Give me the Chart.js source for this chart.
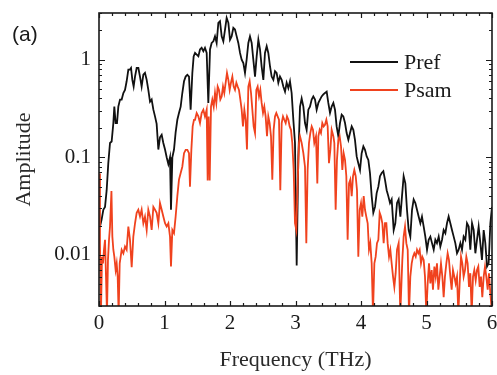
<!DOCTYPE html>
<html>
<head>
<meta charset="utf-8">
<script src="https://cdn.jsdelivr.net/npm/chart.js@4/dist/chart.umd.min.js"></script>
<style>
  html, body { margin: 0; padding: 0; background: #fff; }
  #wrap { position: relative; width: 497px; height: 375px; }
  #tag { position: absolute; left: 12px; top: 22px; font: 21px "Liberation Sans", Arial, sans-serif; color: #1a1a1a; }
</style>
</head>
<body>
<div id="wrap">
  <canvas id="chart" width="497" height="375"></canvas>
  <div id="tag">(a)</div>
</div>
<script>
// series names
var seriesNames = ['Pref', 'Psam'];

// Pref : frequency (THz) / amplitude
var prefFreq = [
  0.015, 0.04, 0.066, 0.092, 0.117, 0.142, 0.168, 0.193, 0.219, 0.234, 0.254, 0.275, 0.295, 0.321, 0.346, 0.372, 0.397, 0.422, 0.448, 0.473,
  0.489, 0.509, 0.529, 0.55, 0.575, 0.601, 0.626, 0.651, 0.677, 0.702, 0.728, 0.753, 0.779, 0.804, 0.83, 0.855, 0.88, 0.906, 0.931, 0.957,
  0.982, 1.008, 1.033, 1.059, 1.084, 1.099, 1.12, 1.145, 1.17, 1.196, 1.221, 1.247, 1.272, 1.298, 1.323, 1.349, 1.374, 1.399, 1.425, 1.445,
  1.466, 1.517, 1.542, 1.567, 1.593, 1.618, 1.644, 1.669, 1.695, 1.72, 1.746, 1.771, 1.796, 1.822, 1.847, 1.873, 1.898, 1.924, 1.949, 1.975,
  2.0, 2.025, 2.051, 2.076, 2.102, 2.127, 2.153, 2.178, 2.204, 2.229, 2.254, 2.28, 2.305, 2.331, 2.356, 2.382, 2.407, 2.433, 2.458, 2.483,
  2.509, 2.534, 2.56, 2.585, 2.611, 2.636, 2.662, 2.687, 2.712, 2.738, 2.763, 2.789, 2.814, 2.84, 2.865, 2.891, 2.916, 2.941, 2.967, 2.992,
  3.018, 3.043, 3.069, 3.094, 3.12, 3.145, 3.17, 3.196, 3.221, 3.247, 3.272, 3.298, 3.323, 3.349, 3.374, 3.399, 3.425, 3.45, 3.476, 3.501,
  3.527, 3.552, 3.578, 3.603, 3.628, 3.654, 3.679, 3.705, 3.73, 3.756, 3.781, 3.807, 3.832, 3.858, 3.883, 3.908, 3.934, 3.959, 3.985, 4.01,
  4.036, 4.061, 4.087, 4.112, 4.137, 4.163, 4.188, 4.214, 4.239, 4.265, 4.29, 4.316, 4.341, 4.366, 4.392, 4.417, 4.443, 4.468, 4.499, 4.524,
  4.55, 4.575, 4.601, 4.626, 4.651, 4.677, 4.702, 4.728, 4.753, 4.779, 4.804, 4.83, 4.855, 4.88, 4.906, 4.931, 4.957, 4.982, 5.008, 5.033,
  5.059, 5.084, 5.11, 5.135, 5.16, 5.186, 5.211, 5.237, 5.262, 5.288, 5.313, 5.338, 5.364, 5.389, 5.415, 5.44, 5.466, 5.491, 5.517, 5.542,
  5.567, 5.593, 5.618, 5.644, 5.669, 5.695, 5.72, 5.746, 5.771, 5.796, 5.822, 5.847, 5.873, 5.898, 5.924, 5.949, 5.975, 6.0
];
var prefAmp = [
  0.0195, 0.023, 0.029, 0.031, 0.046, 0.087, 0.14, 0.145, 0.224, 0.33, 0.224, 0.224, 0.33, 0.39, 0.39, 0.455, 0.49, 0.60, 0.79, 0.79,
  0.82, 0.62, 0.53, 0.67, 0.82, 0.82, 0.67, 0.53, 0.70, 0.73, 0.62, 0.49, 0.37, 0.39, 0.307, 0.262, 0.22, 0.12, 0.16, 0.17,
  0.14, 0.12, 0.1, 0.085, 0.1, 0.029, 0.1, 0.12, 0.18, 0.242, 0.284, 0.33, 0.455, 0.60, 0.67, 0.70, 0.67, 0.307, 0.73, 1.08,
  1.17, 1.08, 1.27, 1.32, 1.22, 1.32, 1.17, 0.36, 1.27, 1.48, 1.54, 1.73, 1.48, 2.38, 2.47, 1.73, 1.54, 2.03, 2.68, 2.38,
  1.60, 1.73, 2.11, 2.03, 1.73, 1.48, 1.17, 1.0, 0.92, 0.73, 1.0, 1.48, 1.73, 1.48, 1.0, 0.67, 1.08, 1.60, 1.27, 0.85,
  0.62, 1.17, 1.37, 1.17, 0.85, 0.67, 0.62, 0.76, 0.73, 0.58, 0.67, 0.62, 0.53, 0.47, 0.58, 0.51, 0.60, 0.455, 0.242, 0.14,
  0.0078, 0.1, 0.33, 0.40, 0.33, 0.224, 0.191, 0.307, 0.33, 0.39, 0.42, 0.39, 0.307, 0.36, 0.39, 0.42, 0.44, 0.455, 0.47, 0.36,
  0.284, 0.33, 0.36, 0.307, 0.207, 0.164, 0.224, 0.273, 0.262, 0.224, 0.177, 0.151, 0.177, 0.207, 0.191, 0.151, 0.102, 0.087, 0.074, 0.11,
  0.129, 0.119, 0.102, 0.094, 0.069, 0.04, 0.027, 0.031, 0.043, 0.05, 0.064, 0.069, 0.072, 0.059, 0.046, 0.04, 0.034, 0.037, 0.018, 0.0211,
  0.034, 0.037, 0.0247, 0.04, 0.064, 0.054, 0.029, 0.018, 0.0154, 0.029, 0.037, 0.034, 0.029, 0.0247, 0.0211, 0.0247, 0.0195, 0.0154, 0.0113, 0.0143,
  0.0154, 0.0132, 0.0113, 0.0143, 0.0132, 0.0154, 0.0122, 0.0143, 0.018, 0.0167, 0.0211, 0.0247, 0.0211, 0.018, 0.0154, 0.0132, 0.0104, 0.0113, 0.0132, 0.0113,
  0.0154, 0.0143, 0.0211, 0.0195, 0.0113, 0.0211, 0.018, 0.0104, 0.0143, 0.0195, 0.0132, 0.0089, 0.018, 0.0132, 0.0076, 0.0082, 0.0211, 0.031
];

// Psam : frequency (THz) / amplitude
var psamFreq = [
  0.0, 0.015, 0.03, 0.046, 0.061, 0.076, 0.092, 0.107, 0.122, 0.137, 0.153, 0.168, 0.19, 0.204, 0.219, 0.234, 0.254, 0.27, 0.285, 0.30,
  0.316, 0.331, 0.346, 0.372, 0.397, 0.422, 0.448, 0.473, 0.499, 0.524, 0.55, 0.575, 0.60, 0.626, 0.651, 0.677, 0.702, 0.728, 0.753, 0.779,
  0.804, 0.83, 0.855, 0.88, 0.906, 0.931, 0.957, 0.982, 1.008, 1.033, 1.059, 1.084, 1.099, 1.12, 1.145, 1.17, 1.196, 1.221, 1.247, 1.272,
  1.298, 1.323, 1.349, 1.374, 1.389, 1.41, 1.43, 1.45, 1.466, 1.491, 1.517, 1.542, 1.567, 1.593, 1.618, 1.644, 1.659, 1.674, 1.69, 1.71,
  1.73, 1.751, 1.771, 1.791, 1.812, 1.832, 1.852, 1.873, 1.893, 1.913, 1.934, 1.954, 1.975, 1.995, 2.015, 2.036, 2.056, 2.076, 2.097, 2.117,
  2.137, 2.158, 2.178, 2.198, 2.219, 2.239, 2.259, 2.28, 2.30, 2.321, 2.341, 2.361, 2.382, 2.402, 2.422, 2.443, 2.463, 2.483, 2.504, 2.524,
  2.544, 2.565, 2.585, 2.605, 2.626, 2.646, 2.666, 2.687, 2.707, 2.727, 2.748, 2.768, 2.789, 2.809, 2.829, 2.85, 2.87, 2.891, 2.911, 2.931,
  2.951, 2.972, 2.992, 3.012, 3.033, 3.053, 3.069, 3.094, 3.12, 3.145, 3.165, 3.185, 3.206, 3.226, 3.247, 3.267, 3.287, 3.313, 3.333, 3.349,
  3.369, 3.389, 3.409, 3.43, 3.45, 3.471, 3.491, 3.511, 3.532, 3.552, 3.578, 3.593, 3.613, 3.633, 3.654, 3.674, 3.695, 3.715, 3.735, 3.756,
  3.776, 3.796, 3.817, 3.837, 3.858, 3.878, 3.898, 3.919, 3.939, 3.959, 3.98, 4.0, 4.02, 4.041, 4.061, 4.081, 4.102, 4.122, 4.142, 4.163,
  4.183, 4.204, 4.224, 4.244, 4.265, 4.285, 4.305, 4.326, 4.346, 4.366, 4.387, 4.407, 4.428, 4.448, 4.468, 4.489, 4.509, 4.529, 4.55, 4.575,
  4.60, 4.631, 4.651, 4.672, 4.692, 4.713, 4.733, 4.753, 4.774, 4.794, 4.814, 4.835, 4.855, 4.875, 4.896, 4.916, 4.936, 4.957, 4.977, 4.997,
  5.018, 5.038, 5.059, 5.079, 5.099, 5.12, 5.14, 5.16, 5.181, 5.201, 5.221, 5.242, 5.262, 5.282, 5.303, 5.323, 5.343, 5.364, 5.384, 5.404,
  5.425, 5.445, 5.466, 5.486, 5.506, 5.527, 5.547, 5.567, 5.588, 5.608, 5.628, 5.649, 5.669, 5.69, 5.71, 5.73, 5.751, 5.771, 5.791, 5.812,
  5.832, 5.852, 5.873, 5.893, 5.913, 5.934, 5.954, 5.975, 5.995
];
var psamAmp = [
  0.068, 0.0132, 0.0025, 0.0096, 0.0082, 0.0113, 0.0143, 0.006, 0.0025, 0.0089, 0.0143, 0.0195, 0.045, 0.0154, 0.0113, 0.0096, 0.007, 0.0082, 0.006, 0.0025,
  0.0082, 0.0096, 0.0113, 0.0104, 0.0122, 0.0113, 0.0195, 0.0143, 0.0075, 0.0154, 0.0211, 0.027, 0.029, 0.0247, 0.029, 0.0211, 0.0247, 0.018, 0.029, 0.0247,
  0.018, 0.031, 0.029, 0.027, 0.0211, 0.034, 0.029, 0.0247, 0.0211, 0.0195, 0.0211, 0.0154, 0.0076, 0.018, 0.0167, 0.0247, 0.04, 0.059, 0.069, 0.08,
  0.11, 0.119, 0.119, 0.11, 0.05, 0.119, 0.207, 0.242, 0.242, 0.284, 0.262, 0.224, 0.284, 0.307, 0.262, 0.307, 0.058, 0.262, 0.058, 0.33,
  0.39, 0.33, 0.455, 0.36, 0.53, 0.49, 0.39, 0.42, 0.53, 0.455, 0.58, 0.73, 0.62, 0.49, 0.58, 0.67, 0.53, 0.49, 0.58, 0.53,
  0.49, 0.39, 0.307, 0.207, 0.307, 0.242, 0.12, 0.53, 0.60, 0.455, 0.307, 0.207, 0.177, 0.49, 0.53, 0.42, 0.49, 0.36, 0.284, 0.33,
  0.262, 0.164, 0.262, 0.224, 0.164, 0.059, 0.191, 0.262, 0.284, 0.262, 0.242, 0.046, 0.224, 0.262, 0.242, 0.224, 0.262, 0.242, 0.207, 0.191,
  0.14, 0.074, 0.0211, 0.018, 0.054, 0.14, 0.164, 0.14, 0.11, 0.08, 0.0132, 0.074, 0.14, 0.177, 0.207, 0.191, 0.14, 0.164, 0.054, 0.164,
  0.191, 0.177, 0.224, 0.207, 0.215, 0.242, 0.207, 0.087, 0.119, 0.191, 0.164, 0.14, 0.029, 0.094, 0.151, 0.164, 0.129, 0.074, 0.11, 0.094,
  0.064, 0.0143, 0.054, 0.059, 0.04, 0.064, 0.074, 0.064, 0.046, 0.0096, 0.029, 0.034, 0.0247, 0.04, 0.029, 0.0247, 0.0211, 0.0113, 0.0132, 0.0082,
  0.0025, 0.0082, 0.0096, 0.0132, 0.0143, 0.027, 0.0247, 0.0211, 0.0132, 0.0211, 0.0211, 0.0132, 0.0096, 0.0113, 0.0082, 0.006, 0.0047, 0.0065, 0.0113, 0.0132,
  0.0025, 0.0089, 0.0154, 0.0195, 0.0132, 0.0113, 0.0025, 0.006, 0.0082, 0.0096, 0.0104, 0.0096, 0.0113, 0.0104, 0.0113, 0.0082, 0.0096, 0.0089, 0.006, 0.0025,
  0.0051, 0.0082, 0.0051, 0.007, 0.0044, 0.0076, 0.006, 0.0082, 0.0044, 0.006, 0.0082, 0.006, 0.0037, 0.006, 0.0082, 0.0104, 0.0089, 0.006, 0.0044, 0.007,
  0.006, 0.0051, 0.006, 0.0025, 0.0051, 0.0096, 0.0082, 0.006, 0.007, 0.0096, 0.0082, 0.0047, 0.0065, 0.0025, 0.006, 0.007, 0.0055, 0.007, 0.0076, 0.0047,
  0.006, 0.0037, 0.006, 0.0076, 0.006, 0.0044, 0.0065, 0.004, 0.0028
];

// axis ticks
var xTickValues = [0, 1, 2, 3, 4, 5, 6];
var xTickLabels = ['0', '1', '2', '3', '4', '5', '6'];
var yTickValues = [0.01, 0.1, 1];
var yTickLabels = ['0.01', '0.1', '1'];

var seriesColors = ['#111111', 'rgb(240,66,30)'];

function toPoints(freq, amp) {
    var pts = [];
    for (var i = 0; i < freq.length; i++) {
        pts.push({x: freq[i], y: amp[i]});
    }
    return pts;
}

var serif = '"Liberation Serif", "Times New Roman", serif';

/* 테두리 + 안쪽 눈금 + 범례 */
var framePlugin = {
    id: 'frame',
    afterDatasetsDraw: function (chart) {
        var ctx = chart.ctx;
        var a = chart.chartArea;
        var xs = chart.scales.x;
        var ys = chart.scales.y;
        ctx.save();
        ctx.strokeStyle = '#1a1a1a';
        ctx.lineWidth = 1.6;
        ctx.strokeRect(a.left, a.top, a.right - a.left, a.bottom - a.top);

        ctx.lineWidth = 1.2;
        ctx.beginPath();
        // x ticks (major every 1, minor every 0.2)
        for (var i = 0; i <= 30; i++) {
            var v = i * 0.2;
            var px = Math.round(xs.getPixelForValue(v)) + 0.5;
            var len = (i % 5 === 0) ? 5 : 3;
            ctx.moveTo(px, a.bottom); ctx.lineTo(px, a.bottom - len);
            ctx.moveTo(px, a.top); ctx.lineTo(px, a.top + len);
        }
        // y ticks (log decades)
        var decades = [0.001, 0.01, 0.1, 1];
        for (var d = 0; d < decades.length; d++) {
            for (var k = 1; k <= 9; k++) {
                var yv = decades[d] * k;
                if (yv < ys.min || yv > ys.max) continue;
                var py = Math.round(ys.getPixelForValue(yv)) + 0.5;
                var l = (k === 1) ? 6 : 3;
                ctx.moveTo(a.left, py); ctx.lineTo(a.left + l, py);
                ctx.moveTo(a.right, py); ctx.lineTo(a.right - l, py);
            }
        }
        ctx.stroke();

        // legend
        ctx.font = '22px ' + serif;
        ctx.textBaseline = 'middle';
        ctx.textAlign = 'left';
        chart.data.datasets.forEach(function (ds, idx) {
            var ly = a.top + 49 + idx * 28;
            ctx.strokeStyle = ds.borderColor;
            ctx.lineWidth = 1.8;
            ctx.beginPath();
            ctx.moveTo(a.left + 251, ly);
            ctx.lineTo(a.left + 299, ly);
            ctx.stroke();
            ctx.fillStyle = '#1a1a1a';
            ctx.fillText(ds.label, a.left + 305, ly + 1);
        });
        ctx.restore();
    }
};

new Chart(document.getElementById('chart'), {
    type: 'line',
    data: {
        datasets: [{
            label: seriesNames[0],
            data: toPoints(prefFreq, prefAmp),
            borderColor: seriesColors[0],
            borderWidth: 1.8,
            pointRadius: 0,
            tension: 0,
            clip: 0,
            order: 1
        }, {
            label: seriesNames[1],
            data: toPoints(psamFreq, psamAmp),
            borderColor: seriesColors[1],
            borderWidth: 1.8,
            pointRadius: 0,
            tension: 0,
            clip: 0,
            order: 0
        }]
    },
    options: {
        responsive: false,
        animation: false,
        layout: {padding: {top: 13, right: 5, bottom: 0, left: 0}},
        plugins: {
            legend: {display: false},
            tooltip: {enabled: false}
        },
        scales: {
            x: {
                type: 'linear',
                min: 0,
                max: 6,
                grid: {display: false, drawTicks: false},
                border: {display: false},
                afterBuildTicks: function (scale) {
                    scale.ticks = xTickValues.map(function (v) { return {value: v}; });
                },
                afterFit: function (scale) {
                    scale.height = 69;
                    scale.paddingLeft = 0;
                    scale.paddingRight = 0;
                },
                ticks: {
                    autoSkip: false,
                    maxRotation: 0,
                    padding: 5,
                    color: '#1a1a1a',
                    font: {family: serif, size: 21},
                    callback: function (value) {
                        var i = xTickValues.indexOf(value);
                        return i >= 0 ? xTickLabels[i] : '';
                    }
                },
                title: {
                    display: true,
                    text: 'Frequency (THz)',
                    color: '#2a2a2a',
                    font: {family: serif, size: 22},
                    padding: {top: 0, bottom: 2}
                }
            },
            y: {
                type: 'logarithmic',
                min: 0.003,
                max: 3,
                grid: {display: false, drawTicks: false},
                border: {display: false},
                afterBuildTicks: function (scale) {
                    scale.ticks = yTickValues.map(function (v) { return {value: v}; });
                },
                afterFit: function (scale) {
                    scale.width = 99;
                    scale.paddingTop = 0;
                    scale.paddingBottom = 0;
                },
                ticks: {
                    autoSkip: false,
                    padding: 8,
                    color: '#1a1a1a',
                    font: {family: serif, size: 21},
                    callback: function (value) {
                        var i = yTickValues.indexOf(value);
                        return i >= 0 ? yTickLabels[i] : '';
                    }
                },
                title: {
                    display: true,
                    text: 'Amplitude',
                    color: '#2a2a2a',
                    font: {family: serif, size: 22},
                    padding: {top: 11, bottom: 0}
                }
            }
        }
    },
    plugins: [framePlugin]
});
</script>
</body>
</html>
